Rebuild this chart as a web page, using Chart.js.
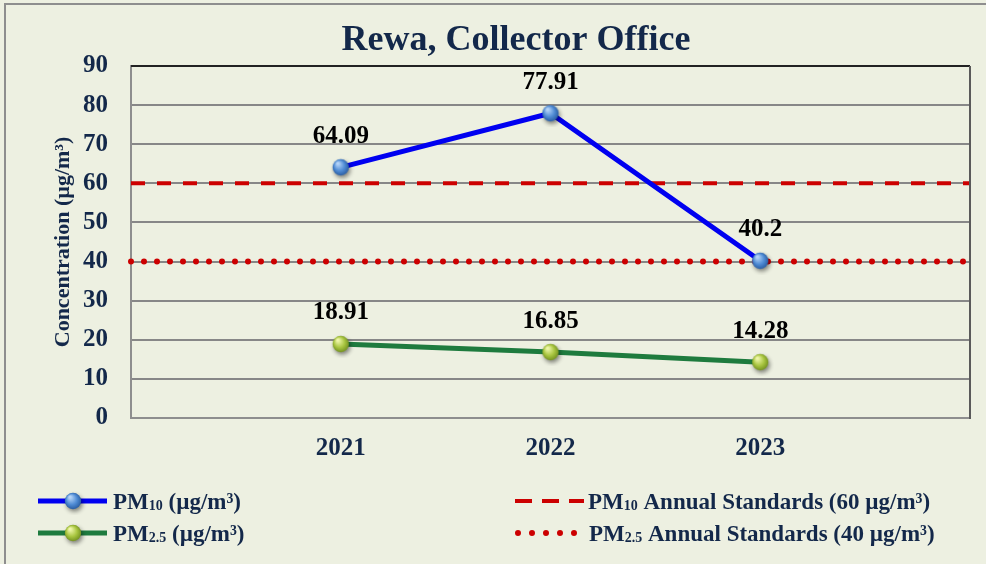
<!DOCTYPE html>
<html>
<head>
<meta charset="utf-8">
<script src="https://cdn.jsdelivr.net/npm/chart.js@4.4.1/dist/chart.umd.min.js"></script>
<style>
  html, body { margin: 0; padding: 0; background: #edf0e1; }
  #wrap { width: 986px; height: 564px; position: relative; }
</style>
</head>
<body>
<div id="wrap"><canvas id="chart"></canvas></div>
<script>
// data
const YEARS = ["", "2021", "2022", "2023", ""];
const PM10 = [null, 64.09, 77.91, 40.2, null];
const PM25 = [null, 18.91, 16.85, 14.28, null];
const PM10_STD = [60, 60, 60, 60, 60];
const PM25_STD = [40, 40, 40, 40, 40];
const Y_MIN = 0;
const Y_MAX = 90;
const Y_STEP = 10;

const TITLE = "Rewa, Collector Office";
const Y_TITLE = "Concentration (µg/m³)";

const NAVY = "#13284a";
const BG = "#edf0e1";
const SERIF = "'Liberation Serif', 'Times New Roman', serif";

function makeBall(light, mid, dark) {
  const c = document.createElement("canvas");
  c.width = 28;
  c.height = 28;
  const g = c.getContext("2d");
  g.shadowColor = "rgba(0,0,0,0.45)";
  g.shadowBlur = 4;
  g.shadowOffsetX = 1.5;
  g.shadowOffsetY = 2.5;
  const grad = g.createRadialGradient(11, 10, 1, 14, 14, 9);
  grad.addColorStop(0, light);
  grad.addColorStop(0.55, mid);
  grad.addColorStop(1, dark);
  g.fillStyle = grad;
  g.beginPath();
  g.arc(14, 14, 8.2, 0, Math.PI * 2);
  g.fill();
  return c;
}

const blueBall = makeBall("#b4d3f7", "#4f8bd4", "#24569a");
const greenBall = makeBall("#eef6a8", "#a8c540", "#6c8a1c");

// text with subscript pieces, e.g. PM + 10
function drawRich(ctx, parts, x, y) {
  let cx = x;
  parts.forEach((p) => {
    ctx.font = `bold ${p.size}px ${SERIF}`;
    ctx.fillText(p.text, cx, y + (p.dy || 0));
    cx += ctx.measureText(p.text).width;
  });
}

const bgPlugin = {
  id: "bg",
  beforeDraw(chart) {
    const ctx = chart.ctx;
    ctx.save();
    ctx.fillStyle = BG;
    ctx.fillRect(0, 0, chart.width, chart.height);
    ctx.strokeStyle = "#8e8e8e";
    ctx.lineWidth = 2;
    ctx.beginPath();
    ctx.moveTo(5, chart.height + 2);
    ctx.lineTo(5, 4);
    ctx.lineTo(chart.width + 2, 4);
    ctx.stroke();
    ctx.restore();
  },
};

const decorPlugin = {
  id: "decor",
  afterDatasetsDraw(chart) {
    const ctx = chart.ctx;
    const a = chart.chartArea;
    ctx.save();
    // top and right frame of the plot
    ctx.strokeStyle = "#000";
    ctx.lineWidth = 1.5;
    ctx.beginPath();
    ctx.moveTo(a.left, a.top);
    ctx.lineTo(a.right, a.top);
    ctx.stroke();
    ctx.strokeStyle = "#5a5a5a";
    ctx.lineWidth = 2;
    ctx.beginPath();
    ctx.moveTo(a.right, a.top);
    ctx.lineTo(a.right, a.bottom + 1);
    ctx.stroke();
    ctx.restore();
  },
  afterDraw(chart) {
    const ctx = chart.ctx;
    ctx.save();
    // title
    ctx.fillStyle = NAVY;
    ctx.font = `bold 36px ${SERIF}`;
    ctx.textAlign = "center";
    ctx.textBaseline = "alphabetic";
    ctx.fillText(TITLE, 516, 50);

    // value labels
    ctx.fillStyle = "#000";
    ctx.font = `bold 25px ${SERIF}`;
    ctx.textBaseline = "middle";
    [0, 1].forEach((di) => {
      const ds = chart.data.datasets[di];
      chart.getDatasetMeta(di).data.forEach((pt, i) => {
        const v = ds.data[i];
        if (v == null) return;
        ctx.fillText(String(v), pt.x, pt.y - 31);
      });
    });

    // legend
    ctx.textAlign = "left";
    ctx.textBaseline = "alphabetic";
    const rows = [501, 533];
    ctx.lineWidth = 5;
    ctx.lineCap = "butt";
    ctx.strokeStyle = chart.data.datasets[0].borderColor;
    ctx.beginPath(); ctx.moveTo(38, rows[0]); ctx.lineTo(107, rows[0]); ctx.stroke();
    ctx.drawImage(blueBall, 73 - 14, rows[0] - 14);
    ctx.strokeStyle = chart.data.datasets[1].borderColor;
    ctx.beginPath(); ctx.moveTo(38, rows[1]); ctx.lineTo(107, rows[1]); ctx.stroke();
    ctx.drawImage(greenBall, 73 - 14, rows[1] - 14);

    ctx.strokeStyle = chart.data.datasets[2].borderColor;
    ctx.lineWidth = 4;
    ctx.setLineDash([17, 10]);
    ctx.beginPath(); ctx.moveTo(515, rows[0]); ctx.lineTo(584, rows[0]); ctx.stroke();
    ctx.strokeStyle = chart.data.datasets[3].borderColor;
    ctx.lineWidth = 6;
    ctx.lineCap = "round";
    ctx.setLineDash([0, 14]);
    ctx.beginPath(); ctx.moveTo(518, rows[1]); ctx.lineTo(575, rows[1]); ctx.stroke();
    ctx.setLineDash([]);

    ctx.fillStyle = NAVY;
    const big = 23, small = 14;
    drawRich(ctx, [{ text: "PM", size: big }, { text: "10", size: small, dy: 1 }, { text: " (µg/m³)", size: big }], 113, rows[0] + 8);
    drawRich(ctx, [{ text: "PM", size: big }, { text: "2.5", size: small, dy: 1 }, { text: " (µg/m³)", size: big }], 113, rows[1] + 8);
    drawRich(ctx, [{ text: "PM", size: big }, { text: "10", size: small, dy: 1 }, { text: " Annual Standards (60 µg/m³)", size: big }], 588, rows[0] + 8);
    drawRich(ctx, [{ text: "PM", size: big }, { text: "2.5", size: small, dy: 1 }, { text: " Annual Standards (40 µg/m³)", size: big }], 589, rows[1] + 8);
    ctx.restore();
  },
};

const ctx = document.getElementById("chart").getContext("2d");
new Chart(ctx, {
  type: "line",
  data: {
    labels: YEARS,
    datasets: [
      {
        label: "PM10 (µg/m³)",
        data: PM10,
        borderColor: "#0000f0",
        borderWidth: 5,
        pointStyle: blueBall,
        pointRadius: 8,
      },
      {
        label: "PM2.5 (µg/m³)",
        data: PM25,
        borderColor: "#1e7b3e",
        borderWidth: 5,
        pointStyle: greenBall,
        pointRadius: 8,
      },
      {
        label: "PM10 Annual Standards (60 µg/m³)",
        data: PM10_STD,
        borderColor: "#cc0000",
        borderWidth: 4,
        borderDash: [14, 12],
        pointRadius: 0,
      },
      {
        label: "PM2.5 Annual Standards (40 µg/m³)",
        data: PM25_STD,
        borderColor: "#cc0000",
        borderWidth: 6,
        borderDash: [0, 13],
        borderCapStyle: "round",
        pointRadius: 0,
      },
    ],
  },
  options: {
    responsive: true,
    maintainAspectRatio: false,
    animation: false,
    events: [],
    layout: { padding: { top: 66, right: 15, left: 0, bottom: 0 } },
    plugins: {
      legend: { display: false },
      tooltip: { enabled: false },
      title: { display: false },
    },
    scales: {
      x: {
        offset: false,
        afterFit: (s) => { s.height = 146; },
        grid: { display: false, drawTicks: false },
        border: { display: true, color: "#8e8e8e", width: 2 },
        ticks: {
          color: NAVY,
          padding: 16,
          maxRotation: 0,
          autoSkip: false,
          font: { family: SERIF, size: 25, weight: "bold" },
        },
      },
      y: {
        min: Y_MIN,
        max: Y_MAX,
        afterFit: (s) => { s.width = 131; },
        grid: { color: "#878787", lineWidth: 2, drawTicks: false },
        border: { display: true, color: "#8e8e8e", width: 2 },
        ticks: {
          stepSize: Y_STEP,
          color: NAVY,
          padding: 23,
          font: { family: SERIF, size: 25, weight: "bold" },
        },
        title: {
          display: true,
          text: Y_TITLE,
          color: NAVY,
          padding: { top: 50 },
          font: { family: SERIF, size: 22, weight: "bold" },
        },
      },
    },
  },
  plugins: [bgPlugin, decorPlugin],
});
</script>
</body>
</html>
